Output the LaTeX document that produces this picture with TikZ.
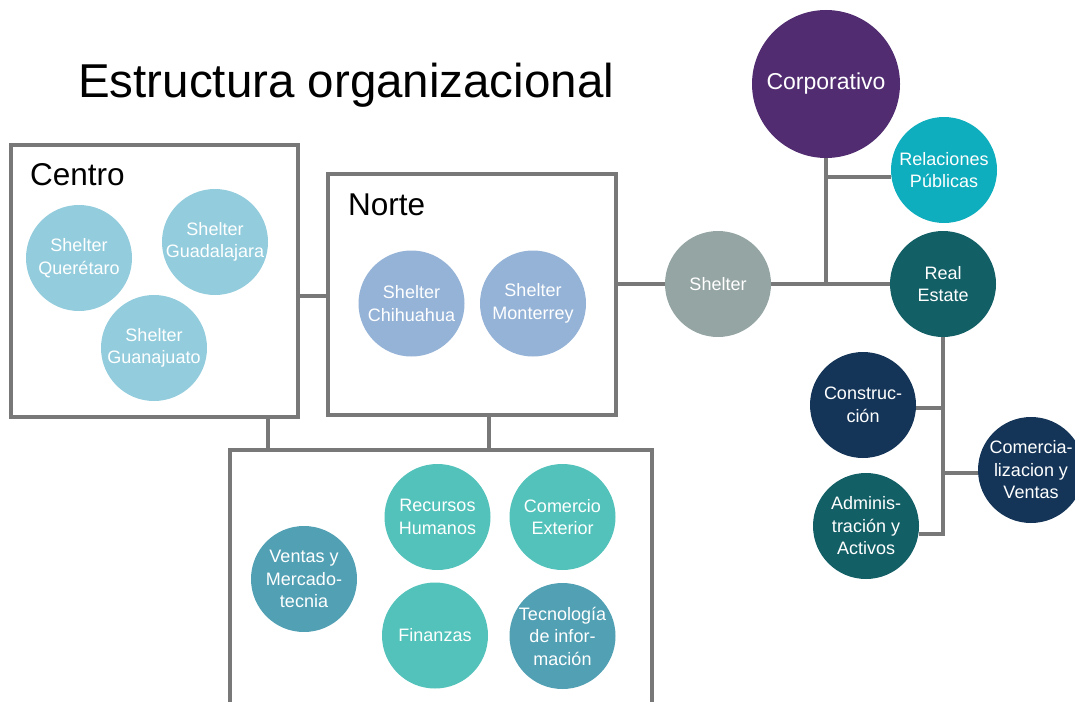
\documentclass[tikz,border=0pt]{standalone}
\usepackage{fontspec}
\setmainfont{Liberation Sans}
\definecolor{linegray}{HTML}{787878}
\definecolor{cLight}{HTML}{93CDDD}
\definecolor{cNorte}{HTML}{95B3D7}
\definecolor{cShelter}{HTML}{95A5A3}
\definecolor{cCorp}{HTML}{512C71}
\definecolor{cRel}{HTML}{0FAEBE}
\definecolor{cRE}{HTML}{135F66}
\definecolor{cNavy}{HTML}{143558}
\definecolor{cTealA}{HTML}{52C2BA}
\definecolor{cTealB}{HTML}{52A0B4}
\tikzset{
  orgcirc/.style={circle, minimum size=106pt, inner sep=0pt, text=white, align=center,
    font=\fontsize{18}{22.5}\selectfont},
  orgbox/.style={draw=linegray, line width=4.5pt, fill=white, rectangle, inner sep=0pt},
  link/.style={draw=linegray, line width=4.5pt},
  boxtitle/.style={anchor=base west, inner sep=0pt, font=\fontsize{31.5}{36}\selectfont},
}
\begin{document}
\begin{tikzpicture}[x=1pt, y=-1pt]
\useasboundingbox (0,0) rectangle (1075,701);
% title
\node[anchor=base west, inner sep=0pt, font=\fontsize{47.5}{55}\selectfont] (title) at (78,97) {Estructura organizacional};
% boxes
\node[orgbox, minimum width=287pt, minimum height=272pt] (centro) at (154.5,281) {};
\node[orgbox, minimum width=288pt, minimum height=241pt] (norte) at (472,294.5) {};
\node[orgbox, minimum width=422pt, minimum height=320pt] (apoyo) at (441,610) {};
% connectors between boxes
\draw[link] ([yshift=-15pt]centro.east) -- ([yshift=-15pt]centro.east -| norte.west);
\draw[link] ([xshift=113.5pt]centro.south) -- ([xshift=113.5pt]centro.south |- apoyo.north);
\draw[link] ([xshift=17pt]norte.south) -- ([xshift=17pt]norte.south |- apoyo.north);
% box titles
\node[boxtitle] (centrot) at (30,185) {Centro};
\node[boxtitle] (nortet) at (348,215) {Norte};
% Centro circles
\node[orgcirc, fill=cLight] (quer) at (79,258) {Shelter\\Querétaro};
\node[orgcirc, fill=cLight] (guad) at (215,242) {Shelter\\Guadalajara};
\node[orgcirc, fill=cLight] (guan) at (154,348) {Shelter\\Guanajuato};
% Norte circles
\node[orgcirc, fill=cNorte] (chih) at (411.5,303.5) {Shelter\\Chihuahua};
\node[orgcirc, fill=cNorte] (mont) at (533,303.5) {Shelter\\Monterrey};
% bottom circles
\node[orgcirc, fill=cTealB] (ventas) at (304,579) {Ventas y\\Mercado-\\tecnia};
\node[orgcirc, fill=cTealA] (rrhh) at (437.5,517) {Recursos\\Humanos};
\node[orgcirc, fill=cTealA] (comext) at (562.5,517) {Comercio\\Exterior};
\node[orgcirc, fill=cTealA] (fin) at (435,635.5) {Finanzas};
\node[orgcirc, fill=cTealB] (ti) at (562.5,636) {Tecnología\\de infor-\\mación};
% right side
\node[orgcirc, fill=cShelter] (shelter) at (718,284) {Shelter};
\node[orgcirc, fill=cRE] (re) at (943,284) {Real\\Estate};
\node[orgcirc, fill=cRel] (rel) at (944,170) {Relaciones\\Públicas};
\node[orgcirc, fill=cCorp, minimum size=148pt, font=\fontsize{23}{27}\selectfont] (corp) at (826,84) {Corporativo};
\node[orgcirc, fill=cNavy] (cons) at (863,405) {Construc-\\ción};
\node[orgcirc, fill=cNavy] (comer) at (1031,470) {Comercia-\\lizacion y\\Ventas};
\node[orgcirc, fill=cRE] (admin) at (866,526) {Adminis-\\tración y\\Activos};
\coordinate (reend) at (943,536);
% right connectors
\draw[link] (norte.east |- shelter.west) -- (shelter.west);
\draw[link] (shelter.east) -- (re.west);
\draw[link] (corp.south) -- (corp.south |- re.west);
\draw[link] ([yshift=-7pt]rel.west -| corp.south) -- ([yshift=-7pt]rel.west);
\draw[link] (re.south) -- (reend);
\draw[link] ([yshift=-3pt]cons.east) -- ([yshift=-3pt]cons.east -| reend);
\draw[link] ([yshift=-3pt]comer.west -| reend) -- ([yshift=-3pt]comer.west);
\draw[link] ([yshift=-8pt]admin.east) -- ([yshift=-8pt]admin.east -| reend);
\end{tikzpicture}
\end{document}
